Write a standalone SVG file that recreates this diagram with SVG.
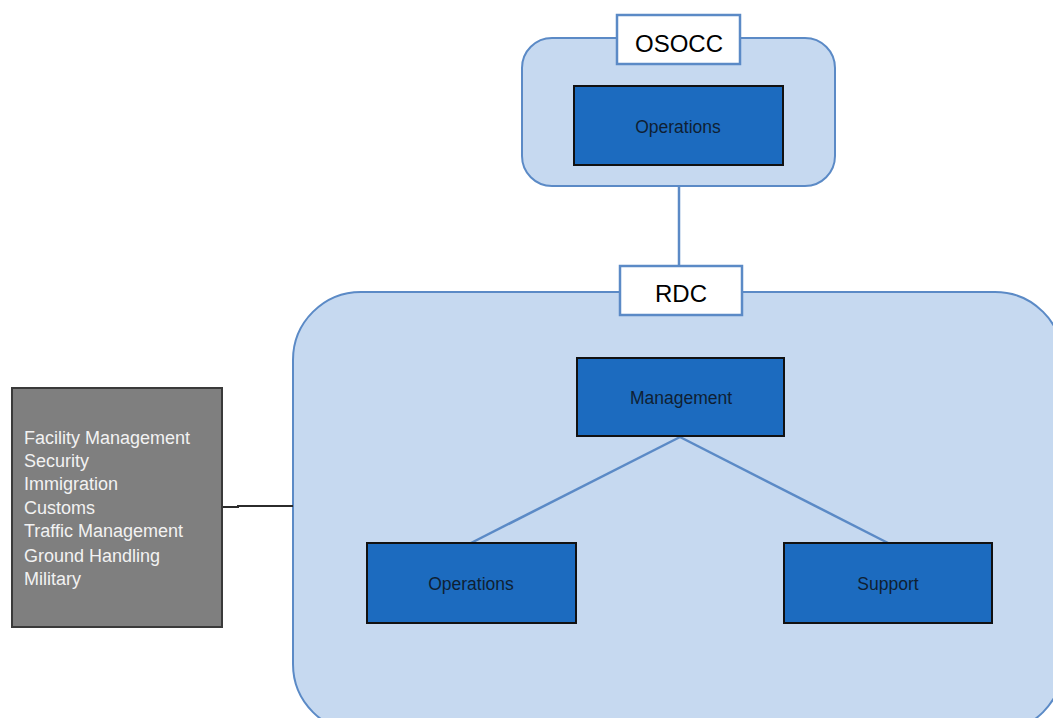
<svg xmlns="http://www.w3.org/2000/svg" width="1053" height="718" viewBox="0 0 1053 718">
<style>
.cont{fill:#c6d9f0;stroke:#5b8ac6;stroke-width:2}
.lbl{fill:#ffffff;stroke:#5b8ac6;stroke-width:2.5}
.box{fill:#1c6bbf;stroke:#111111;stroke-width:2}
.bt{font-family:"Liberation Sans",Arial,sans-serif;font-size:17.5px;fill:#0f1f33;text-anchor:middle}
.lt{font-family:"Liberation Sans",Arial,sans-serif;font-size:24px;fill:#000000;text-anchor:middle}
.gt{font-family:"Liberation Sans",Arial,sans-serif;font-size:18px;fill:#f2f2f2}
.conn{stroke:#5b8ac6;stroke-width:2.5;fill:none}
</style>
<rect width="1053" height="718" fill="#ffffff"/>
<g id="osocc-container">
<rect class="cont" x="522" y="38" width="313" height="148" rx="30"/>
</g>
<g id="rdc-container">
<rect class="cont" x="293" y="292" width="770" height="440" rx="68"/>
</g>
<g id="connectors">
<line class="conn" x1="679" y1="186" x2="679" y2="267"/>
<line class="conn" x1="680" y1="437" x2="471" y2="543"/>
<line class="conn" x1="680" y1="437" x2="888" y2="543"/>
<polyline points="222,507 238,507 238,506 293,506" fill="none" stroke="#2b2b2b" stroke-width="2"/>
</g>
<g id="osocc-label">
<rect class="lbl" x="617" y="15" width="123" height="49"/>
<text class="lt" x="679" y="52">OSOCC</text>
</g>
<g id="osocc-operations">
<rect class="box" x="574" y="86" width="209" height="79"/>
<text class="bt" x="678" y="133">Operations</text>
</g>
<g id="rdc-label">
<rect class="lbl" x="620" y="266" width="122" height="49"/>
<text class="lt" x="681" y="302">RDC</text>
</g>
<g id="management">
<rect class="box" x="577" y="358" width="207" height="78"/>
<text class="bt" x="681" y="404">Management</text>
</g>
<g id="rdc-operations">
<rect class="box" x="367" y="543" width="209" height="80"/>
<text class="bt" x="471" y="590">Operations</text>
</g>
<g id="support">
<rect class="box" x="784" y="543" width="208" height="80"/>
<text class="bt" x="888" y="590">Support</text>
</g>
<g id="external-actors">
<rect x="12" y="388" width="210" height="239" fill="#7f7f7f" stroke="#3a3a3a" stroke-width="2"/>
<text class="gt" x="24" y="444">Facility Management</text>
<text class="gt" x="24" y="467">Security</text>
<text class="gt" x="24" y="490">Immigration</text>
<text class="gt" x="24" y="514">Customs</text>
<text class="gt" x="24" y="537">Traffic Management</text>
<text class="gt" x="24" y="562">Ground Handling</text>
<text class="gt" x="24" y="585">Military</text>
</g>
</svg>
